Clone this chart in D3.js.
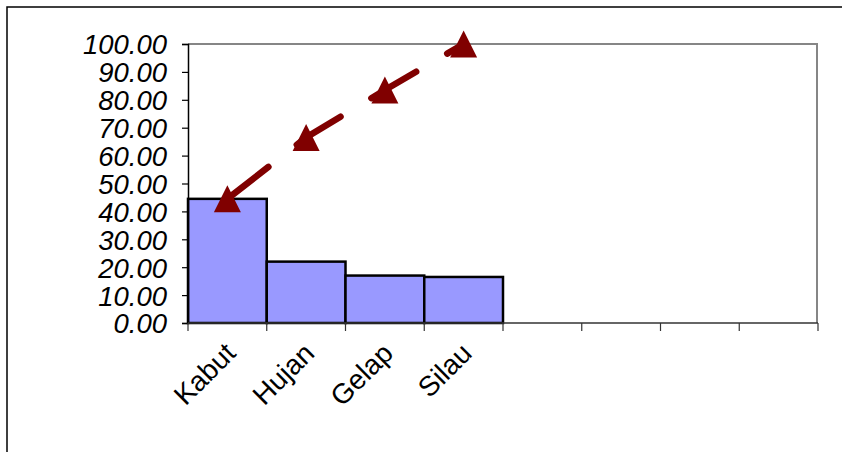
<!DOCTYPE html>
<html>
<head>
<meta charset="utf-8">
<script src="https://cdn.jsdelivr.net/npm/d3@7"></script>
<style>
  html, body { margin: 0; padding: 0; background: #fff; }
  svg { display: block; }
</style>
</head>
<body>
<svg id="chart" width="842" height="452"></svg>
<script>
// Pareto data: share of each cause (%) and the running total
const categories = ["Kabut", "Hujan", "Gelap", "Silau"];
const slotCount = 8; // category slots along the x axis (4 are empty)
const percentValues = [44.5, 22.0, 17.0, 16.5];
const cumulativeValues = [44.5, 66.5, 83.5, 100.0];
const yTicks = [0, 10, 20, 30, 40, 50, 60, 70, 80, 90, 100];

const svg = d3.select("#chart");

const plot = { left: 188, right: 818, top: 44, bottom: 323 };

const x = d3.scaleBand()
  .domain(d3.range(slotCount))
  .range([plot.left, plot.right])
  .padding(0);

const y = d3.scaleLinear()
  .domain([0, 100])
  .range([plot.bottom, plot.top]);

// outer chart frame (only top and left edges fall inside the view)
svg.append("path")
  .attr("d", "M7,460 L7,7 L850,7")
  .attr("fill", "none")
  .attr("stroke", "#000")
  .attr("stroke-width", 1.5);

// plot area border (top and right, gray)
svg.append("path")
  .attr("d", `M${plot.left},${plot.top} L${plot.right - 1},${plot.top} L${plot.right - 1},${plot.bottom}`)
  .attr("fill", "none")
  .attr("stroke", "#868686")
  .attr("stroke-width", 2);

// bars
svg.append("g")
  .selectAll("rect")
  .data(percentValues)
  .join("rect")
  .attr("x", (d, i) => x(i))
  .attr("y", d => y(d))
  .attr("width", x.bandwidth())
  .attr("height", d => y(0) - y(d))
  .attr("fill", "#9999FF")
  .attr("stroke", "#000")
  .attr("stroke-width", 2.5);

// y axis
const yAxis = d3.axisLeft(y)
  .tickValues(yTicks)
  .tickFormat(d3.format(".2f"))
  .tickSize(6)
  .tickPadding(15);

const gy = svg.append("g")
  .attr("transform", `translate(${plot.left},0)`)
  .call(yAxis);
gy.select(".domain").attr("stroke", "#000").attr("stroke-width", 1.5);
gy.selectAll(".tick line").attr("stroke", "#000").attr("stroke-width", 1.2);
gy.selectAll(".tick text")
  .attr("fill", "#000")
  .attr("font-family", "'Liberation Sans', Arial, sans-serif")
  .attr("font-style", "italic")
  .attr("font-size", 27.5)
  .attr("dy", "0.36em");

// x axis: ticks on slot boundaries
const boundaries = d3.range(slotCount + 1).map(i => plot.left + i * x.bandwidth());
const gx = svg.append("g");
gx.append("line")
  .attr("x1", plot.left).attr("x2", plot.right)
  .attr("y1", plot.bottom).attr("y2", plot.bottom)
  .attr("stroke", "#333").attr("stroke-width", 1.5);
gx.selectAll("line.tick")
  .data(boundaries)
  .join("line")
  .attr("class", "tick")
  .attr("x1", d => d).attr("x2", d => d)
  .attr("y1", plot.bottom).attr("y2", plot.bottom + 8)
  .attr("stroke", "#333").attr("stroke-width", 1.2);

gx.selectAll("text")
  .data(categories)
  .join("text")
  .attr("transform", (d, i) => `translate(${x(i) + x.bandwidth() / 2 - 4},${plot.bottom + 18}) rotate(-45)`)
  .attr("text-anchor", "end")
  .attr("dy", "0.7em")
  .attr("font-family", "'Liberation Sans', Arial, sans-serif")
  .attr("font-size", 28)
  .attr("fill", "#000")
  .text(d => d);

// cumulative line
const linePoints = cumulativeValues.map((v, i) => [x(i) + x.bandwidth() / 2, y(v)]);
svg.append("path")
  .attr("d", d3.line()(linePoints))
  .attr("fill", "none")
  .attr("stroke", "#800000")
  .attr("stroke-width", 6.5)
  .attr("stroke-linecap", "round")
  .attr("stroke-dasharray", "52,36");

// triangle markers
const tri = 27;
svg.append("g")
  .selectAll("path")
  .data(linePoints)
  .join("path")
  .attr("transform", d => `translate(${d[0]},${d[1]})`)
  .attr("d", `M0,${-tri / 2} L${tri / 2},${tri / 2} L${-tri / 2},${tri / 2} Z`)
  .attr("fill", "#800000");
</script>
</body>
</html>
